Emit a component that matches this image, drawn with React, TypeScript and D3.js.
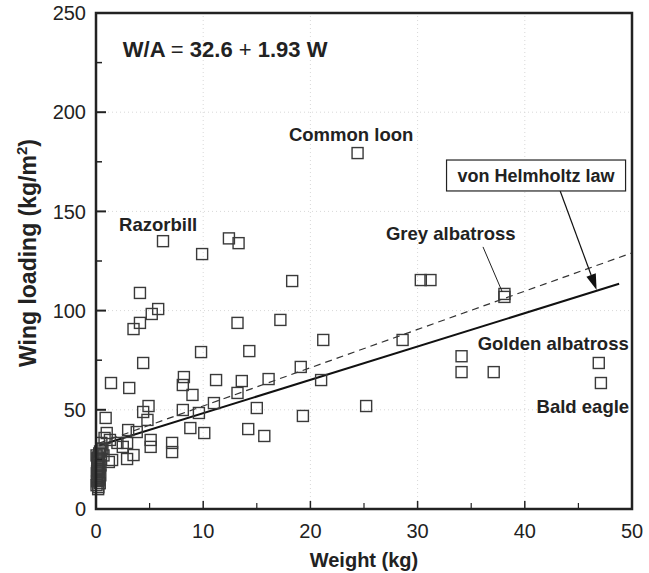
import React from "react";
import * as d3 from "d3";

// ---- data ----
const birdWeight: number[] = [
  24.4, 6.25, 12.4, 13.3, 9.9, 18.3, 30.3, 31.2, 38.1, 38.1,
  4.1, 5.8, 5.2, 4.1, 3.5, 13.2, 17.2, 21.2, 28.6, 9.8,
  14.3, 4.4, 34.1, 34.1, 37.1, 46.9, 47.1, 8.2, 8.1, 9.0,
  11.2, 13.6, 16.1, 19.1, 21.0, 13.2, 11.0, 8.1, 9.6, 15.0,
  19.3, 25.2, 8.8, 10.1, 14.2, 15.7, 1.4, 3.1, 4.9, 4.4,
  4.8, 0.9, 1.0, 3.0, 3.8, 5.1, 5.1, 7.1, 7.1, 2.9,
  2.5, 3.5, 2.9, 1.5, 1.3, 2.0, 0.8, 0.5, 1.2, 0.7, 0.6,
  0.05, 0.1, 0.15, 0.08, 0.2, 0.12, 0.25, 0.18, 0.3, 0.22,
  0.35, 0.28, 0.4, 0.1, 0.32, 0.15, 0.45, 0.05, 0.38, 0.2,
  0.5, 0.12, 0.3, 0.25, 0.42,
];
const wingLoading: number[] = [
  179.4, 135, 136.4, 134, 128.5, 114.9, 115.4, 115.4, 108.4, 106.9,
  108.9, 100.8, 98.3, 93.8, 90.7, 93.8, 95.3, 85.2, 85.2, 79.1,
  79.6, 73.6, 77, 69, 69, 73.6, 63.5, 66.5, 62.5, 57.5,
  65.0, 64.5, 65.5, 71.6, 65.0, 58.5, 53.4, 49.9, 48.4, 50.9,
  46.9, 51.9, 40.8, 38.3, 40.3, 36.8, 63.5, 61.0, 51.9, 48.9,
  44.9, 45.9, 38.3, 39.8, 38.8, 34.8, 31.3, 33.3, 28.7, 33.3,
  31.3, 27.2, 25.2, 24.7, 34.8, 33.3, 35.8, 33.3, 23.7, 27, 30.5,
  12, 14, 16, 18, 20, 22, 24, 26, 28, 11,
  13, 15, 17, 19, 21, 23, 25, 27, 29, 10,
  30, 25.5, 19, 14.5, 22,
];

// fitted line W/A = 32.6 + 1.93 W (dashed) endpoints
const fitLineW: number[] = [0.3, 50];
const fitLineWA: number[] = [33.2, 129.1];
// von Helmholtz law (solid) endpoints
const helmW: number[] = [0.3, 48.8];
const helmWA: number[] = [32.0, 113.5];

const xTicksMajor: number[] = [0, 10, 20, 30, 40, 50];
const xTicksMinor: number[] = [5, 15, 25, 35, 45];
const yTicksMajor: number[] = [0, 50, 100, 150, 200, 250];
const yTicksMinor: number[] = [25, 75, 125, 175, 225];

const birdLabels: string[] = ["Common loon", "Razorbill", "Grey albatross", "Golden albatross", "Bald eagle"];
const birdLabelW: number[] = [18.0, 2.15, 27.05, 35.6, 41.1];
const birdLabelWA: number[] = [185.5, 140.1, 135.6, 80.1, 48.4];

const W = 649;
const H = 573;
const M = { left: 96, right: 17, top: 13, bottom: 64 };
const FONT = "'Liberation Sans', Arial, Helvetica, sans-serif";
const INK = "#222";

export default function App() {
  const x = d3.scaleLinear().domain([0, 50]).range([M.left, W - M.right]);
  const y = d3.scaleLinear().domain([0, 250]).range([H - M.bottom, M.top]);
  const pts = d3.zip(birdWeight, wingLoading) as [number, number][];
  const line = d3.line<[number, number]>().x((d) => x(d[0])).y((d) => y(d[1]));
  const fit = d3.zip(fitLineW, fitLineWA) as [number, number][];
  const helm = d3.zip(helmW, helmWA) as [number, number][];
  const sq = 11;

  // arrow annotation (data coords)
  const arrowFrom: [number, number] = [43.3, 160.3];
  const arrowTo: [number, number] = [46.7, 110.4];
  const ax0 = x(arrowFrom[0]), ay0 = y(arrowFrom[1]);
  const ax1 = x(arrowTo[0]), ay1 = y(arrowTo[1]);
  const ang = Math.atan2(ay1 - ay0, ax1 - ax0);
  const hl = 16, hw = 5;
  const bx = ax1 - hl * Math.cos(ang), by = ay1 - hl * Math.sin(ang);
  const head = `M${ax1},${ay1} L${bx + hw * Math.sin(ang)},${by - hw * Math.cos(ang)} L${bx - hw * Math.sin(ang)},${by + hw * Math.cos(ang)} Z`;

  const x0 = x(0), x1 = x(50), y0 = y(0), y1 = y(250);

  return (
    <svg width={W} height={H} style={{ position: "absolute", left: 0, top: 0, background: "#fff" }} fontFamily={FONT}>
      {/* grid */}
      {xTicksMajor.slice(1, -1).map((t) => (
        <line key={"gx" + t} x1={x(t)} x2={x(t)} y1={y0} y2={y1} stroke="#d8d8d8" strokeWidth={1} strokeDasharray="1,3" />
      ))}
      {yTicksMajor.slice(1, -1).map((t) => (
        <line key={"gy" + t} x1={x0} x2={x1} y1={y(t)} y2={y(t)} stroke="#d8d8d8" strokeWidth={1} strokeDasharray="1,3" />
      ))}

      {/* lines */}
      <path d={line(fit) || ""} fill="none" stroke="#333" strokeWidth={1.2} strokeDasharray="7,5" />
      <path d={line(helm) || ""} fill="none" stroke="#111" strokeWidth={2} />

      {/* points */}
      {pts.map((p, i) => (
        <rect key={i} x={x(p[0]) - sq / 2} y={y(p[1]) - sq / 2} width={sq} height={sq} fill="none" stroke="#3a3a3a" strokeWidth={1.4} />
      ))}

      {/* ticks */}
      {yTicksMajor.map((t) => (
        <line key={"ty" + t} x1={x0} x2={x0 + 10} y1={y(t)} y2={y(t)} stroke={INK} strokeWidth={2} />
      ))}
      {yTicksMinor.map((t) => (
        <line key={"tym" + t} x1={x0} x2={x0 + 6} y1={y(t)} y2={y(t)} stroke={INK} strokeWidth={1.5} />
      ))}
      {xTicksMajor.map((t) => (
        <line key={"tx" + t} x1={x(t)} x2={x(t)} y1={y0} y2={y0 - 8} stroke={INK} strokeWidth={1.5} />
      ))}
      {xTicksMinor.map((t) => (
        <line key={"txm" + t} x1={x(t)} x2={x(t)} y1={y0} y2={y0 - 6} stroke={INK} strokeWidth={1.2} />
      ))}

      {/* frame */}
      <rect x={x0} y={y1} width={x1 - x0} height={y0 - y1} fill="none" stroke={INK} strokeWidth={2.5} />

      {/* tick labels */}
      {yTicksMajor.map((t) => (
        <text key={"ly" + t} x={x0 - 10} y={y(t)} dy="0.36em" textAnchor="end" fontSize={20} fill={INK}>{t}</text>
      ))}
      {xTicksMajor.map((t) => (
        <text key={"lx" + t} x={x(t)} y={y0 + 29} textAnchor="middle" fontSize={20} fill={INK}>{t}</text>
      ))}

      {/* axis titles */}
      <text x={(x0 + x1) / 2} y={H - 6} textAnchor="middle" fontSize={20} fontWeight="bold" fill={INK}>Weight (kg)</text>
      <text transform={`translate(36,${(y0 + y1) / 2 - 8}) rotate(-90)`} textAnchor="middle" fontSize={23} fontWeight="bold" fill={INK}>
        Wing loading (kg/m<tspan dy="-9" fontSize={15}>2</tspan><tspan dy="9">)</tspan>
      </text>

      {/* equation */}
      <text x={x(2.5)} y={y(227.8)} fontSize={22} fontWeight="bold" fill={INK}>
        W/A <tspan fontWeight="normal">=</tspan> 32.6 <tspan fontWeight="normal">+</tspan> 1.93 W
      </text>

      {/* bird labels */}
      {birdLabels.map((s, i) => (
        <text key={s} x={x(birdLabelW[i])} y={y(birdLabelWA[i])} fontSize={18.5} fontWeight="bold" fill={INK}>{s}</text>
      ))}
      {/* grey albatross leader */}
      <line x1={x(36.1)} y1={y(132.1)} x2={x(37.9)} y2={y(109.4)} stroke="#222" strokeWidth={1} />

      {/* von Helmholtz annotation */}
      <line x1={ax0} y1={ay0} x2={bx} y2={by} stroke="#111" strokeWidth={1.2} />
      <path d={head} fill="#111" />
      <rect x={x(32.7)} y={y(175.9)} width={x(49.4) - x(32.7)} height={y(160.3) - y(175.9)} fill="#fff" stroke="#222" strokeWidth={1.2} />
      <text x={(x(32.7) + x(49.4)) / 2} y={(y(175.9) + y(160.3)) / 2} dy="0.36em" textAnchor="middle" fontSize={18} fontWeight="bold" fill={INK}>von Helmholtz law</text>
    </svg>
  );
}
